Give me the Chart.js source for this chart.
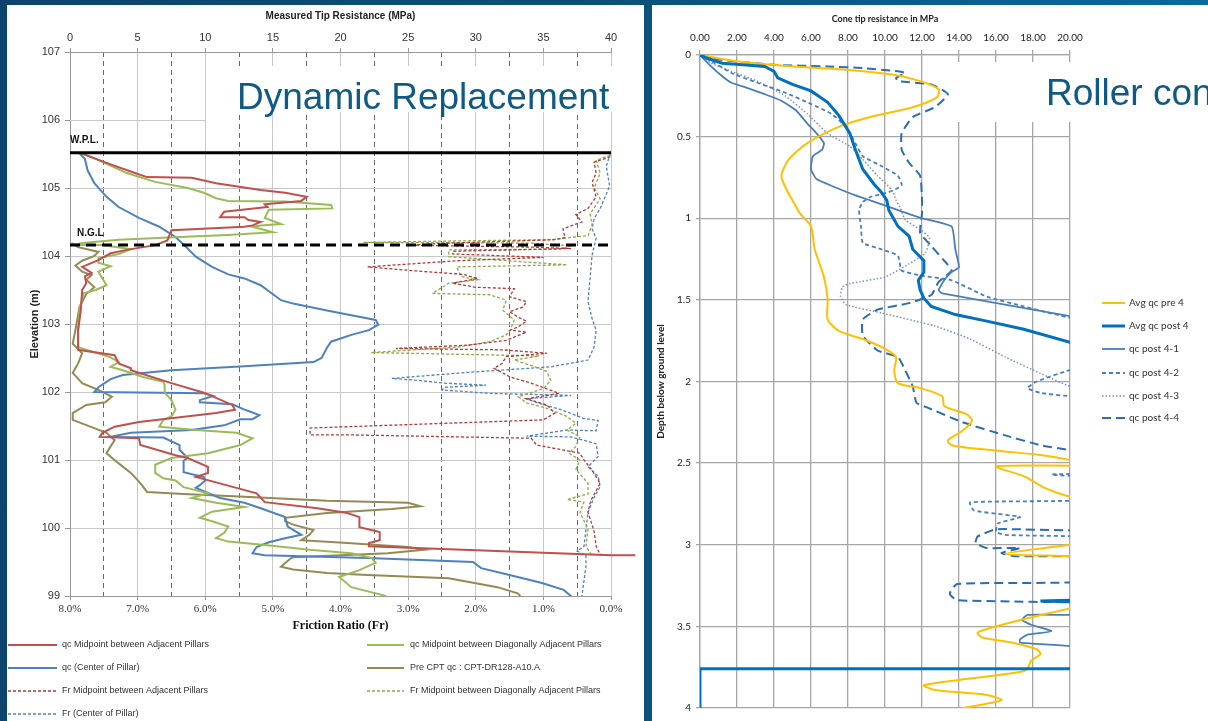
<!DOCTYPE html>
<html><head><meta charset="utf-8">
<script src="https://cdn.jsdelivr.net/npm/chart.js@4.4.1/dist/chart.umd.min.js"></script>
<style>
html,body{margin:0;padding:0;}
body{width:1208px;height:721px;overflow:hidden;position:relative;background:linear-gradient(90deg,#0c436c 0%,#0b5079 50%,#0a6a9b 100%);}
.panel{position:absolute;background:#fff;}
#pl{left:7px;top:5px;width:637px;height:716px;}
#pr{left:652px;top:5px;width:556px;height:716px;}
canvas{display:block;}
</style></head><body>
<div class="panel" id="pl"><canvas id="cl" width="637" height="716"></canvas></div>
<div class="panel" id="pr"><canvas id="cr" width="556" height="716"></canvas></div>
<script>
// ---------------- LEFT CHART DATA: [MPa or Fr %, elevation m] ----------------
const leftTitle = 'Dynamic Replacement';
const wplLine = [[0,105.52],[40,105.52]];
const nglLine = [[0,104.16],[40,104.16]];
const leftLegendLabels = [
  'qc Midpoint between Adjacent Pillars',
  'qc Midpoint between Diagonally Adjacent Pillars',
  'qc (Center of Pillar)',
  'Pre CPT qc : CPT-DR128-A10.A',
  'Fr Midpoint between Adjacent Pillars',
  'Fr Midpoint between Diagonally Adjacent Pillars',
  'Fr (Center of Pillar)'
];
const qcAdjacent = [[0.86,105.51],[2.7,105.37],[4.8,105.22],[5.7,105.16],[9.0,105.15],[10.8,105.07],[14.1,104.97],[15.9,104.93],[17.5,104.87],[17.1,104.81],[14.4,104.76],[14.6,104.72],[11.4,104.65],[11.1,104.57],[12.9,104.57],[13.2,104.53],[14.1,104.5],[13.5,104.45],[12.9,104.43],[7.5,104.38],[7.2,104.23],[6.3,104.16],[4.2,104.09],[3.0,104.04],[2.1,103.94],[0.9,103.84],[1.6,103.75],[1.1,103.7],[1.2,103.6],[0.9,103.5],[0.8,103.2],[0.6,102.91],[0.6,102.62],[3.3,102.54],[3.6,102.42],[4.5,102.35],[4.5,102.32],[7.5,102.13],[9.9,101.99],[12.0,101.81],[12.2,101.74],[10.8,101.69],[7.8,101.62],[5.1,101.56],[3.3,101.49],[2.4,101.4],[2.2,101.34],[5.1,101.32],[5.2,101.22],[7.8,101.07],[8.7,101.03],[10.2,100.9],[10.2,100.81],[9.3,100.75],[12.3,100.59],[13.8,100.51],[14.4,100.38],[18.3,100.29],[20.5,100.22],[21.4,100.16],[21.4,100.01],[22.9,99.94],[22.9,99.82],[22.1,99.78],[22.1,99.73],[40,99.6],[41.8,99.6]];
const qcDiagonal = [[0.86,105.51],[2.1,105.41],[4.2,105.22],[6.3,105.09],[8.7,105.0],[9.9,104.93],[10.8,104.85],[11.7,104.81],[15.9,104.8],[19.3,104.75],[19.4,104.7],[14.7,104.68],[14.4,104.56],[15.6,104.47],[14.1,104.45],[13.5,104.43],[15.0,104.35],[11.7,104.31],[8.1,104.28],[3.6,104.24],[0.9,104.19],[0.1,104.16],[2.4,104.16],[4.5,104.1],[3.6,104.03],[2.1,103.97],[2.1,103.9],[3.0,103.85],[2.1,103.77],[2.4,103.67],[2.7,103.57],[1.9,103.5],[1.0,103.45],[0.7,103.2],[0.6,102.91],[0.6,102.66],[3.0,102.51],[3.6,102.44],[3.0,102.37],[3.9,102.32],[5.4,102.22],[6.9,102.15],[7.0,102.1],[7.0,101.99],[7.5,101.88],[7.8,101.74],[7.5,101.64],[6.9,101.59],[6.6,101.49],[9.3,101.44],[12.3,101.4],[13.5,101.32],[12.6,101.22],[10.2,101.1],[7.5,101.03],[6.3,100.93],[6.3,100.81],[6.9,100.73],[7.8,100.7],[8.4,100.6],[10.2,100.51],[9.0,100.44],[10.8,100.37],[12.9,100.31],[10.5,100.24],[9.6,100.15],[10.5,100.1],[11.7,100.02],[11.4,99.93],[10.8,99.85],[11.7,99.8],[14.4,99.75],[17.7,99.68],[20.8,99.63],[22.3,99.56],[22.6,99.49],[21.4,99.38],[19.9,99.28],[20.8,99.13],[23.2,99.01],[23.5,98.98]];
const qcCenter = [[0.7,105.51],[1.1,105.43],[1.3,105.26],[1.8,105.07],[2.7,104.87],[3.6,104.72],[5.1,104.56],[6.6,104.43],[7.8,104.28],[8.6,104.13],[9.3,103.99],[10.5,103.84],[11.7,103.73],[12.9,103.67],[14.1,103.57],[15.6,103.35],[16.5,103.3],[19.0,103.2],[20.8,103.13],[22.6,103.06],[22.8,102.99],[22.1,102.91],[20.8,102.84],[19.3,102.74],[19.0,102.65],[18.6,102.5],[18.0,102.44],[12.9,102.38],[7.5,102.32],[3.9,102.25],[3.0,102.19],[2.1,102.07],[1.8,102.0],[9.9,101.98],[10.6,101.94],[9.6,101.88],[9.6,101.85],[12.0,101.82],[12.9,101.74],[13.2,101.72],[14.0,101.66],[13.5,101.6],[12.6,101.6],[11.4,101.51],[9.0,101.44],[4.5,101.4],[3.0,101.34],[6.9,101.33],[8.1,101.22],[8.1,101.15],[8.7,101.03],[8.4,100.99],[8.4,100.82],[9.9,100.75],[10.0,100.7],[9.6,100.63],[9.3,100.59],[9.9,100.54],[11.1,100.44],[12.9,100.37],[14.1,100.29],[15.9,100.16],[16.1,100.02],[17.1,99.9],[15.9,99.85],[14.7,99.79],[13.8,99.72],[13.5,99.63],[14.4,99.6],[22.0,99.56],[29.8,99.5],[30.4,99.41],[32.5,99.31],[34.9,99.19],[36.5,99.09],[37.1,98.99]];
const preCpt = [[0.1,104.19],[0.6,104.13],[2.1,104.06],[1.8,104.0],[0.9,103.93],[0.4,103.86],[0.9,103.77],[1.6,103.72],[1.2,103.65],[1.8,103.54],[1.2,103.44],[0.7,103.25],[0.4,102.91],[0.2,102.71],[0.9,102.57],[0.6,102.42],[0.2,102.28],[0.9,102.13],[2.1,102.03],[3.1,101.93],[2.6,101.85],[1.2,101.81],[0.2,101.69],[0.2,101.59],[1.5,101.49],[2.7,101.4],[3.3,101.29],[3.0,101.2],[2.7,101.1],[3.6,100.95],[4.5,100.81],[5.2,100.66],[5.7,100.53],[8.4,100.5],[12.9,100.46],[19.0,100.4],[25.0,100.37],[25.9,100.32],[23.8,100.28],[19.0,100.22],[15.9,100.15],[15.9,100.1],[16.5,100.05],[18.0,99.97],[17.7,99.9],[17.1,99.82],[20.5,99.78],[25.0,99.72],[26.2,99.68],[23.5,99.63],[16.5,99.57],[16.3,99.55],[15.6,99.43],[16.5,99.39],[19.0,99.34],[22.0,99.31],[28.0,99.26],[31.6,99.13],[33.1,99.04],[33.3,99.0]];
const frAdjacent = [[0.01,105.46],[0.25,105.38],[0.22,105.22],[0.28,105.08],[0.22,104.87],[0.34,104.7],[0.52,104.61],[0.43,104.5],[0.71,104.4],[0.68,104.27],[0.83,104.24],[2.4,104.19],[3.0,104.16],[1.16,104.13],[0.59,104.11],[2.34,104.07],[2.34,104.03],[1.0,103.98],[2.28,103.93],[3.6,103.84],[2.88,103.78],[2.19,103.73],[1.97,103.67],[2.34,103.6],[2.0,103.54],[1.43,103.52],[1.5,103.4],[1.25,103.33],[1.3,103.25],[1.5,103.18],[1.37,103.1],[1.25,103.04],[1.37,102.96],[1.49,102.91],[1.25,102.88],[1.55,102.76],[2.1,102.69],[3.18,102.64],[1.6,102.62],[0.95,102.57],[1.55,102.52],[1.61,102.42],[1.73,102.35],[1.49,102.22],[1.18,102.13],[0.77,101.98],[1.25,101.9],[0.95,101.81],[0.83,101.69],[1.0,101.59],[4.45,101.47],[4.45,101.37],[3.9,101.37],[1.18,101.32],[1.1,101.22],[0.46,101.1],[0.4,101.0],[0.28,100.85],[0.16,100.66],[0.3,100.4],[0.34,100.23],[0.25,99.95],[0.22,99.73],[0.16,99.61],[0.0,99.6]];
const frDiagonal = [[0.01,105.48],[0.22,105.41],[0.16,105.22],[0.25,105.0],[0.16,104.84],[0.31,104.62],[0.28,104.45],[0.34,104.3],[0.89,104.24],[2.4,104.22],[3.66,104.2],[1.18,104.19],[0.59,104.15],[0.77,104.1],[2.4,104.09],[2.4,103.99],[0.65,103.87],[2.28,103.84],[2.22,103.7],[1.97,103.65],[2.4,103.6],[2.64,103.45],[1.79,103.43],[1.55,103.35],[1.6,103.2],[1.43,103.06],[1.49,102.91],[1.55,102.84],[1.79,102.74],[2.28,102.66],[3.55,102.58],[3.0,102.57],[1.06,102.53],[1.43,102.47],[1.12,102.37],[0.95,102.3],[0.89,102.17],[1.0,102.05],[1.37,101.93],[1.25,101.84],[0.95,101.76],[0.65,101.64],[0.52,101.54],[0.65,101.44],[0.46,101.34],[0.52,101.2],[0.62,101.1],[0.46,101.0],[0.52,100.86],[0.34,100.66],[0.34,100.5],[0.65,100.42],[0.4,100.38],[0.46,100.23],[0.34,99.99],[0.37,99.73],[0.28,99.59]];
const frCenter = [[0.01,105.51],[0.07,105.32],[0.02,105.03],[0.1,104.84],[0.16,104.7],[0.25,104.55],[0.28,104.4],[0.22,104.26],[0.28,104.01],[0.31,103.67],[0.34,103.33],[0.28,103.08],[0.22,102.91],[0.25,102.66],[0.34,102.47],[0.89,102.37],[2.1,102.29],[3.24,102.2],[2.84,102.17],[2.46,102.13],[1.85,102.1],[2.46,102.07],[2.5,102.03],[1.79,101.98],[0.59,101.95],[1.25,101.9],[1.12,101.85],[0.74,101.74],[0.4,101.61],[0.19,101.58],[0.22,101.43],[0.65,101.44],[1.25,101.35],[0.59,101.34],[0.22,101.24],[0.19,101.05],[0.34,100.9],[0.19,100.76],[0.16,100.61],[0.25,100.45],[0.34,100.23],[0.38,99.9],[0.4,99.73],[0.5,99.66],[0.37,99.6],[0.37,99.44],[0.43,99.0]];

// ---------------- RIGHT CHART DATA: [MPa, depth m] ----------------
const rightTitle = 'Roller con';
const rightLegendLabels = ['Avg qc pre 4','Avg qc post 4','qc post 4-1','qc post 4-2','qc post 4-3','qc post 4-4'];
const avgPre = [[0,0],[2.1,0.04],[5.0,0.07],[7.9,0.09],[10.4,0.12],[11.9,0.16],[12.9,0.21],[12.8,0.26],[11.5,0.32],[9.2,0.38],[7.5,0.44],[5.8,0.54],[4.8,0.64],[4.4,0.74],[4.7,0.83],[5.0,0.89],[5.4,0.97],[6.0,1.05],[6.2,1.19],[6.7,1.36],[6.9,1.5],[6.9,1.62],[7.5,1.69],[8.8,1.74],[10.0,1.8],[10.6,1.85],[10.5,1.93],[10.7,2.01],[11.9,2.04],[13.1,2.09],[13.2,2.15],[14.4,2.2],[14.7,2.24],[14.2,2.3],[13.4,2.36],[13.6,2.39],[15.7,2.42],[18.4,2.45],[20,2.48],[21,2.5],[21,2.515],[16.0,2.52],[17.5,2.58],[18.6,2.65],[19.8,2.7],[21,2.73],[21,2.98],[20,3.0],[16.5,3.055],[20,3.07],[21,3.075],[21,3.37],[20,3.39],[17.7,3.45],[15.7,3.51],[15.0,3.54],[15.3,3.57],[16.9,3.6],[18.2,3.64],[18.4,3.67],[17.9,3.71],[17.7,3.76],[17.3,3.78],[14.6,3.82],[12.1,3.86],[12.7,3.89],[15.5,3.92],[16.3,3.95],[15.7,3.97],[14.2,4.0]];
const avgPost = [[0,0],[0.4,0.02],[1.2,0.05],[2.3,0.06],[3.5,0.07],[4.0,0.1],[4.2,0.14],[5.0,0.18],[6.0,0.22],[6.9,0.29],[7.5,0.37],[8.1,0.48],[8.4,0.58],[8.8,0.7],[9.4,0.79],[9.8,0.84],[10.1,0.89],[10.2,0.95],[10.7,1.05],[11.3,1.11],[11.5,1.19],[12.1,1.26],[12.1,1.33],[11.8,1.38],[11.9,1.44],[12.1,1.49],[12.5,1.54],[13.8,1.59],[15.5,1.63],[17.5,1.68],[20,1.76],[22,1.8],[22,3.335],[18.4,3.345],[22,3.355],[22,3.76],[0,3.76],[0,4.0]];
const post41 = [[0,0],[0.6,0.07],[1.2,0.13],[1.7,0.17],[2.5,0.2],[3.5,0.24],[4.4,0.28],[5.2,0.34],[5.8,0.42],[6.3,0.48],[6.7,0.54],[6.6,0.58],[6.1,0.62],[6.0,0.7],[6.3,0.76],[7.3,0.81],[8.4,0.86],[9.2,0.89],[10.7,0.95],[12.0,1.0],[13.6,1.05],[13.8,1.19],[14.0,1.3],[13.6,1.33],[13.2,1.38],[12.9,1.44],[13.1,1.46],[20,1.6],[22,1.64],[22,3.42],[20,3.43],[17.7,3.43],[17.4,3.46],[17.9,3.49],[19.0,3.53],[17.7,3.55],[17.3,3.58],[17.3,3.6],[20,3.62],[22,3.63]];
const post42 = [[0,0],[0.8,0.05],[1.7,0.11],[3.1,0.17],[4.6,0.23],[6.0,0.3],[7.1,0.36],[7.9,0.44],[8.4,0.54],[8.8,0.62],[9.8,0.68],[10.7,0.74],[10.9,0.8],[10.2,0.84],[9.2,0.87],[8.8,0.9],[8.6,0.95],[8.7,1.05],[8.8,1.15],[9.8,1.19],[10.7,1.23],[10.9,1.32],[11.9,1.35],[13.6,1.38],[15.5,1.48],[17.5,1.54],[20,1.61],[22,1.64],[22,1.9],[20,1.93],[18.2,2.0],[17.7,2.04],[18.4,2.07],[20,2.09],[22,2.1],[22,2.54],[19.0,2.57],[22,2.6],[22,2.72],[14.6,2.74],[14.8,2.79],[17.3,2.83],[16.1,2.87],[16.0,2.92],[16.5,2.94],[22,2.95]];
const post43 = [[0,0],[0.6,0.05],[1.7,0.1],[3.1,0.16],[4.6,0.25],[5.8,0.36],[6.9,0.48],[8.1,0.56],[8.8,0.64],[9.6,0.74],[10.4,0.83],[10.6,0.89],[10.8,0.93],[11.1,1.01],[11.9,1.07],[12.4,1.12],[12.2,1.21],[11.3,1.28],[10.0,1.36],[8.1,1.4],[7.7,1.42],[7.6,1.48],[7.9,1.53],[9.8,1.58],[12.7,1.66],[14.6,1.74],[16.5,1.85],[18.4,1.95],[20,2.03],[22,2.07]];
const post44 = [[0,0],[1.2,0.03],[4.0,0.06],[6.9,0.07],[8.8,0.08],[10.7,0.1],[11.1,0.11],[10.6,0.14],[10.7,0.16],[12.5,0.18],[13.4,0.24],[12.7,0.32],[11.5,0.38],[10.9,0.48],[10.9,0.58],[11.3,0.66],[11.9,0.74],[12.0,0.89],[12.0,0.97],[11.9,1.09],[12.5,1.17],[13.2,1.26],[13.6,1.32],[12.9,1.39],[12.5,1.47],[11.3,1.52],[9.6,1.56],[8.8,1.62],[8.8,1.72],[9.6,1.81],[10.7,1.85],[11.0,1.91],[11.5,2.03],[11.7,2.13],[12.3,2.16],[14.2,2.25],[16.5,2.33],[18.4,2.39],[20,2.42],[22,2.45],[22,2.89],[16.0,2.905],[15.0,2.95],[14.9,2.99],[15.5,3.02],[17.3,3.02],[16.3,3.05],[17.0,3.07],[22,3.08],[22,3.22],[13.9,3.24],[13.5,3.3],[13.9,3.34],[22,3.355]];

// ---------------- helpers ----------------
const SANS = "'Liberation Sans', Arial, sans-serif";
const SERIF = "'Liberation Serif', 'Times New Roman', serif";
const CAL = "Lato, 'Open Sans', sans-serif";
const toXY = a => a.map(p => ({x: p[0], y: p[1]}));
const ds = (label, data, color, extra) => Object.assign({
  label, data: toXY(data), borderColor: color, backgroundColor: color,
  borderWidth: 2, pointRadius: 0, pointHoverRadius: 0, showLine: true, tension: 0, fill: false, clip: 0
}, extra || {});
const isInt = v => Math.abs(v - Math.round(v)) < 1e-9;

function legendItem(ctx, d, x1, x2, y, tx, text, font) {
  ctx.save();
  ctx.strokeStyle = d.borderColor;
  ctx.lineWidth = d.borderWidth;
  ctx.setLineDash(d.borderDash || []);
  ctx.beginPath(); ctx.moveTo(x1, y); ctx.lineTo(x2, y); ctx.stroke();
  ctx.setLineDash([]);
  ctx.fillStyle = '#333'; ctx.font = font; ctx.textBaseline = 'middle'; ctx.textAlign = 'left';
  ctx.fillText(text, tx, y);
  ctx.restore();
}

// ---------------- LEFT CHART ----------------
const leftDecor = {
  id: 'leftDecor',
  beforeDatasetsDraw(chart) {
    const {ctx, scales: {x, y}} = chart;
    ctx.save();
    ctx.strokeStyle = '#c8c8c8'; ctx.lineWidth = 1;
    const py = Math.round(y.getPixelForValue(106)) + 0.5;
    ctx.beginPath(); ctx.moveTo(x.getPixelForValue(0), py); ctx.lineTo(x.getPixelForValue(10), py); ctx.stroke();
    ctx.fillStyle = '#fff'; ctx.fillRect(205, 61, 432, 46);
    ctx.restore();
  },
  afterDraw(chart) {
    const {ctx, scales: {x, y}} = chart;
    ctx.save();
    ctx.fillStyle = '#0f5a84';
    ctx.font = '37px ' + SANS; ctx.textBaseline = 'alphabetic'; ctx.textAlign = 'left';
    ctx.fillText(leftTitle, 230, 104);
    ctx.fillStyle = '#111'; ctx.font = 'bold 10px ' + SANS; ctx.textBaseline = 'middle';
    ctx.fillText('W.P.L.', x.getPixelForValue(0), y.getPixelForValue(wplLine[0][1]) - 12);
    ctx.fillText('N.G.L', x.getPixelForValue(0) + 7, y.getPixelForValue(nglLine[0][1]) - 12);
    ctx.restore();
    const D = chart.data.datasets;
    const f = '9px ' + SANS;
    const rows = [640, 663, 686, 709];
    const order = [[0,0],[1,1],[2,0],[3,1],[4,0],[5,1],[6,0]];
    const rowOf = [0,0,1,1,2,2,3];
    order.forEach(([i, col], k) => {
      const d = D[i + 2];
      const yy = rows[rowOf[k]];
      if (col === 0) legendItem(ctx, d, 1, 50, yy, 55, leftLegendLabels[i], f);
      else legendItem(ctx, d, 360, 397, yy, 403, leftLegendLabels[i], f);
    });
  }
};

new Chart(document.getElementById('cl'), {
  type: 'scatter',
  data: { datasets: [
    ds('W.P.L.', wplLine, '#000', {borderWidth: 3}),
    ds('N.G.L', nglLine, '#000', {borderWidth: 3, borderDash: [10, 6]}),
    ds(leftLegendLabels[0], qcAdjacent, '#c0504d', {clip: {left: 0, top: 0, right: 40, bottom: 0}}),
    ds(leftLegendLabels[1], qcDiagonal, '#9bbb59'),
    ds(leftLegendLabels[2], qcCenter, '#4f81bd'),
    ds(leftLegendLabels[3], preCpt, '#948a54'),
    ds(leftLegendLabels[4], frAdjacent, '#b03a36', {xAxisID: 'x2', borderWidth: 1.3, borderDash: [3, 2]}),
    ds(leftLegendLabels[5], frDiagonal, '#8fa84a', {xAxisID: 'x2', borderWidth: 1.3, borderDash: [3, 2]}),
    ds(leftLegendLabels[6], frCenter, '#4f81bd', {xAxisID: 'x2', borderWidth: 1.3, borderDash: [3, 2]})
  ]},
  options: {
    responsive: false, animation: false, devicePixelRatio: 1,
    layout: {padding: {left: 0, right: 33, top: 0, bottom: 85}},
    plugins: {legend: {display: false}, tooltip: {enabled: false}},
    scales: {
      x: {
        type: 'linear', position: 'top', min: 0, max: 40,
        ticks: {stepSize: 5, autoSkip: false, maxRotation: 0, color: '#333', font: {family: SANS, size: 11}, padding: 3},
        grid: {color: '#c8c8c8', lineWidth: 1, tickLength: 4, tickColor: '#999'},
        border: {color: '#999'},
        title: {display: true, text: 'Measured Tip Resistance (MPa)', color: '#222', font: {family: SANS, size: 10, weight: 'bold'}, padding: {top: 5, bottom: 0}},
        afterFit: a => { a.height = 47; }
      },
      x2: {
        type: 'linear', position: 'bottom', min: 0, max: 8, reverse: true,
        ticks: {stepSize: 0.5, autoSkip: false, maxRotation: 0, color: '#333', font: {family: SERIF, size: 11}, padding: 3,
          callback: v => isInt(v) ? Number(v).toFixed(1) + '%' : ''},
        grid: {
          color: c => (c.tick && !isInt(c.tick.value)) ? '#6a6a6a' : 'rgba(0,0,0,0)',
          tickColor: c => (c.tick && isInt(c.tick.value)) ? '#999' : 'rgba(0,0,0,0)',
          lineWidth: 1, tickLength: 4
        },
        border: {color: '#999', dash: [5, 4]},
        title: {display: true, text: 'Friction Ratio (Fr)', color: '#111', font: {family: SERIF, size: 12, weight: 'bold'}, padding: {top: 0, bottom: 3}},
        afterFit: a => { a.height = 40; }
      },
      y: {
        type: 'linear', min: 99, max: 107,
        ticks: {stepSize: 1, color: '#333', font: {family: SANS, size: 11}, padding: 5},
        grid: {color: c => (c.tick && c.tick.value === 106) ? 'rgba(0,0,0,0)' : '#c8c8c8', tickLength: 5, tickColor: '#999'},
        border: {color: '#999'},
        title: {display: true, text: 'Elevation (m)', color: '#222', font: {family: SANS, size: 11, weight: 'bold'}, padding: {top: 21, bottom: 0}},
        afterFit: a => { a.width = 63; }
      }
    }
  },
  plugins: [leftDecor]
});

// ---------------- RIGHT CHART ----------------
const rightDecor = {
  id: 'rightDecor',
  beforeDatasetsDraw(chart) {
    const {ctx} = chart;
    ctx.save(); ctx.fillStyle = '#fff'; ctx.fillRect(303, 57, 253, 60); ctx.restore();
  },
  afterDraw(chart) {
    const {ctx} = chart;
    ctx.save();
    ctx.fillStyle = '#0f5a84';
    ctx.font = '37px ' + SANS; ctx.textBaseline = 'alphabetic'; ctx.textAlign = 'left';
    ctx.fillText(rightTitle, 394, 100);
    ctx.restore();
    const D = chart.data.datasets;
    const rows = [298, 321, 344, 368, 391, 413];
    const f = '10px ' + CAL;
    const map = [1, 0, 2, 3, 4, 5];
    rows.forEach((yy, k) => legendItem(ctx, D[map[k]], 450, 473, yy, 477, rightLegendLabels[k], f));
  }
};

new Chart(document.getElementById('cr'), {
  type: 'scatter',
  data: { datasets: [
    ds(rightLegendLabels[1], avgPost, '#0070c0', {borderWidth: 3}),
    ds(rightLegendLabels[0], avgPre, '#ffc000', {borderWidth: 2, tension: 0.25}),
    ds(rightLegendLabels[2], post41, '#4a7ebb', {borderWidth: 1.8, tension: 0.15}),
    ds(rightLegendLabels[3], post42, '#4a7ebb', {borderWidth: 1.8, borderDash: [4, 3], tension: 0.15}),
    ds(rightLegendLabels[4], post43, '#7390c8', {borderWidth: 1.5, borderDash: [1.5, 2], tension: 0.15}),
    ds(rightLegendLabels[5], post44, '#2a6db5', {borderWidth: 2, borderDash: [9, 5], tension: 0.15})
  ]},
  options: {
    responsive: false, animation: false, devicePixelRatio: 1,
    layout: {padding: {left: 0, right: 138, top: 0, bottom: 13}},
    plugins: {legend: {display: false}, tooltip: {enabled: false}},
    scales: {
      x: {
        type: 'linear', position: 'top', min: 0, max: 20,
        ticks: {stepSize: 2, autoSkip: false, maxRotation: 0, color: '#222', font: {family: CAL, size: 10}, padding: 6,
          callback: v => Number(v).toFixed(2)},
        grid: {color: '#a6a6a6', lineWidth: 1.3, tickLength: 5, tickColor: '#a6a6a6'},
        border: {color: '#a6a6a6', width: 1.3},
        title: {display: true, text: 'Cone tip resistance in MPa', color: '#222', font: {family: CAL, size: 9, weight: 'bold'}, padding: {top: 8.6, bottom: 0}},
        afterFit: a => { a.height = 50; }
      },
      y: {
        type: 'linear', reverse: true, min: 0, max: 4,
        ticks: {stepSize: 0.5, color: '#222', font: {family: CAL, size: 10}, padding: 5,
          callback: v => String(+Number(v).toFixed(2))},
        grid: {color: '#a6a6a6', lineWidth: 1.3, tickLength: 4, tickColor: '#a6a6a6'},
        border: {color: '#a6a6a6', width: 1.3},
        title: {display: true, text: 'Depth below ground level', color: '#222', font: {family: CAL, size: 10, weight: 'bold'}, padding: {top: 3, bottom: 0}},
        afterFit: a => { a.width = 48; }
      }
    }
  },
  plugins: [rightDecor]
});
</script>
</body></html>
